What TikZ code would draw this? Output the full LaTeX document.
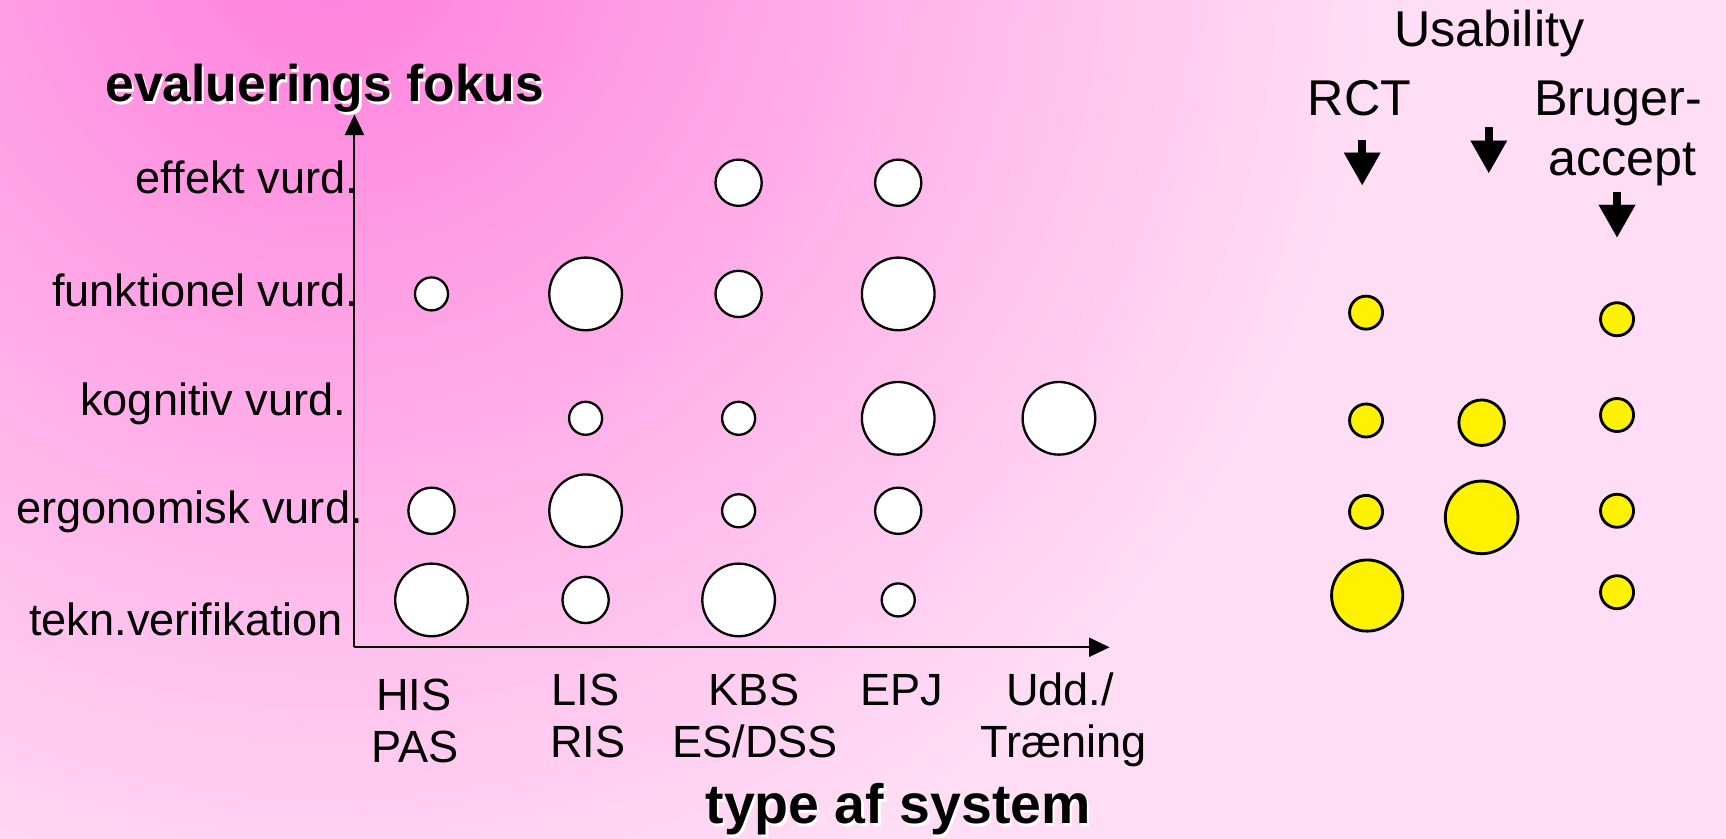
\documentclass[tikz,border=0pt]{standalone}
\usepackage{fontspec}
\setmainfont{Liberation Sans}
\usetikzlibrary{arrows.meta}
\definecolor{hotpink}{RGB}{255,126,220}
\definecolor{palepink}{RGB}{255,222,245}
\begin{document}
\begin{tikzpicture}[x=0.015cm, y=-0.015cm,
	lbl/.style = {font=\fontsize{17.5}{20.5}\selectfont, inner sep=0pt},
	rlbl/.style = {font=\fontsize{19.5}{23}\selectfont, inner sep=0pt},
	ttl/.style = {font=\fontsize{#1}{#1}\selectfont\bfseries, inner sep=0pt},
	axis/.style = {line width=0.8pt, -{Triangle[length=0.28cm, width=0.26cm]}},
	blockarrow/.style = {line width=3.2pt, -{Triangle[length=0.44cm, width=0.5cm, line width=0.01pt]}},
	wdot/.style = {circle, draw, fill=white, line width=0.9pt, inner sep=0pt, minimum size=#1},
	ydot/.style = {circle, draw, fill=yellow, line width=1.1pt, inner sep=0pt, minimum size=#1}]
		\useasboundingbox (0,0) rectangle (1568,762);
		\fill[palepink] (0,0) rectangle (1568,762);
		\begin{scope}
			\clip (0,0) rectangle (1568,762);
			\foreach \k in {0,...,59} {
				\pgfmathsetmacro\rad{14.4*(1-\k/60)}
				\pgfmathsetmacro\pct{100*(1-\k/60)}
				\fill[palepink!\pct!hotpink] (300,-60) circle [radius=\rad cm];
			}
		\end{scope}
		% akser
		\coordinate (o) at (322,588);
		\coordinate (ytop) at (322,104);
		\coordinate (xend) at (1008,588);
		\draw[axis] (o) -- (ytop);
		\draw[axis] (o) -- (xend);
		\node[ttl=20, text=white, anchor=base] (fokus-sh) at (297,94.5) {evaluerings fokus};
		\node[ttl=20, anchor=base] (fokus) at (295,92.5) {evaluerings fokus};
		\node[ttl=21.5, text=white, anchor=base] (type-sh) at (818,750.5) {type af system};
		\node[ttl=21.5, anchor=base] (type) at (816,748.5) {type af system};
		% fokus
		\node[lbl, anchor=base east] (effekt) at (326,176) {effekt vurd.};
		\node[lbl, anchor=base east] (funk) at (326,278) {funktionel vurd.};
		\node[lbl, anchor=base east] (kogn) at (315,377) {kognitiv vurd.};
		\node[lbl, anchor=base east] (ergo) at (330,476) {ergonomisk vurd.};
		\node[lbl, anchor=base east] (tekn) at (312,577) {tekn.verifikation};
		% systemer
		\node[lbl, anchor=base] (his) at (376,645.5) {HIS};
		\node[lbl, anchor=base] (pas) at (377,692.5) {PAS};
		\node[lbl, anchor=base] (lis) at (532,640.5) {LIS};
		\node[lbl, anchor=base] (ris) at (534,688) {RIS};
		\node[lbl, anchor=base] (kbs) at (685,640.5) {KBS};
		\node[lbl, anchor=base] (esdss) at (686,688) {ES/DSS};
		\node[lbl, anchor=base] (epj) at (819,640.5) {EPJ};
		\node[lbl, anchor=base] (udd) at (963,640.5) {Udd./};
		\node[lbl, anchor=base] (traening) at (966,688) {Træning};
		% hvide
		\node[wdot=0.63cm] (eff-kbs) at (671,166) {};
		\node[wdot=0.63cm] (eff-epj) at (816,166) {};
		\node[wdot=0.45cm] (fun-his) at (392,267) {};
		\node[wdot=0.99cm] (fun-lis) at (532,267) {};
		\node[wdot=0.63cm] (fun-kbs) at (671,267) {};
		\node[wdot=0.99cm] (fun-epj) at (816,267) {};
		\node[wdot=0.45cm] (kog-lis) at (532,380) {};
		\node[wdot=0.45cm] (kog-kbs) at (671,380) {};
		\node[wdot=0.99cm] (kog-epj) at (816,380) {};
		\node[wdot=0.99cm] (kog-udd) at (962,380) {};
		\node[wdot=0.63cm] (erg-his) at (392,464) {};
		\node[wdot=0.99cm] (erg-lis) at (532,464) {};
		\node[wdot=0.45cm] (erg-kbs) at (671,464) {};
		\node[wdot=0.63cm] (erg-epj) at (816,464) {};
		\node[wdot=0.99cm] (tek-his) at (392,545) {};
		\node[wdot=0.63cm] (tek-lis) at (532,545) {};
		\node[wdot=0.99cm] (tek-kbs) at (671,545) {};
		\node[wdot=0.45cm] (tek-epj) at (816,545) {};
		% usability
		\node[rlbl, anchor=base] (usab) at (1353,42) {Usability};
		\node[rlbl, anchor=base] (rct) at (1235,104.5) {RCT};
		\node[rlbl, anchor=base] (bruger) at (1470,104.5) {Bruger-};
		\node[rlbl, anchor=base] (accept) at (1474,159) {accept};
		\coordinate (a1s) at (1237.5,127.5);
		\coordinate (a1e) at (1237.5,168);
		\coordinate (a2s) at (1352.5,115.5);
		\coordinate (a2e) at (1352.5,157);
		\coordinate (a3s) at (1469,174);
		\coordinate (a3e) at (1469,215.5);
		\draw[blockarrow] (a1s) -- (a1e);
		\draw[blockarrow] (a2s) -- (a2e);
		\draw[blockarrow] (a3s) -- (a3e);
		\node[ydot=0.45cm] (rct-1) at (1241,284) {};
		\node[ydot=0.45cm] (rct-2) at (1241,382) {};
		\node[ydot=0.45cm] (rct-3) at (1241,465) {};
		\node[ydot=0.97cm] (rct-4) at (1242,541) {};
		\node[ydot=0.62cm] (mid-1) at (1346,384) {};
		\node[ydot=0.99cm] (mid-2) at (1346,470) {};
		\node[ydot=0.45cm] (brg-1) at (1469,290) {};
		\node[ydot=0.45cm] (brg-2) at (1469,377) {};
		\node[ydot=0.45cm] (brg-3) at (1469,464) {};
		\node[ydot=0.45cm] (brg-4) at (1469,538) {};
\end{tikzpicture}
\end{document}
